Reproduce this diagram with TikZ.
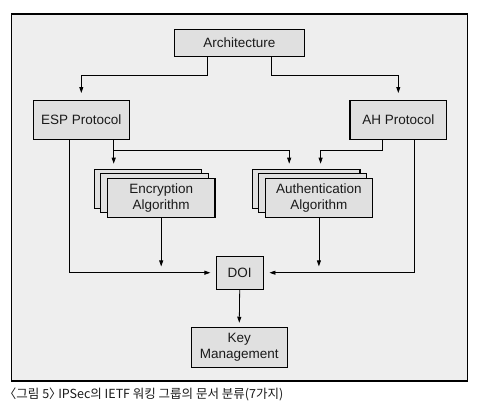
\documentclass[tikz,border=0pt]{standalone}
\usepackage{fontspec}
\setmainfont{Liberation Sans}
\newfontfamily\krfont{Noto Sans CJK KR}
\newfontfamily\krhalf[RawFeature=+halt]{Noto Sans CJK KR}
\usetikzlibrary{arrows.meta}
\definecolor{framebg}{HTML}{EEEEEE}
\definecolor{boxfill}{HTML}{E0E0E0}
\definecolor{txt}{HTML}{1A1A1A}
\begin{document}
\begin{tikzpicture}[x=1pt,y=-1pt,
  box/.style={draw=black,fill=boxfill,line width=1.1pt,inner sep=0pt,align=center,
    font=\fontsize{13.5}{16}\selectfont,text=txt},
  stk/.style={box,minimum width=107.5pt,minimum height=39pt},
  arr/.style={line width=0.8pt,-{Triangle[length=6pt,width=4pt]}}]
\useasboundingbox (0,0) rectangle (494,410);
\fill[white] (0,0) rectangle (494,410);
\draw[fill=framebg,line width=1.1pt] (11.7,14) rectangle (467.7,381);

\node[box,minimum width=130pt,minimum height=26.7pt] (arch) at (239.3,42.7) {Architecture};
\node[box,minimum width=96pt,minimum height=39.3pt] (esp) at (81.3,119.7) {ESP Protocol};
\node[box,minimum width=96.7pt,minimum height=39.3pt] (ah) at (398.3,119.7) {AH Protocol};
\node[stk] (enc3) at (148,189) {};
\node[stk] (enc2) at (154.6,193.4) {};
\node[stk] (enc1) at (161.2,197.8) {Encryption\\Algorithm};
\node[stk] (au3) at (306.2,189) {};
\node[stk] (au2) at (312.6,193.4) {};
\node[stk] (au1) at (318.9,197.8) {Authentication\\Algorithm};
\node[box,minimum width=47pt,minimum height=33.3pt] (doi) at (239.7,272.7) {DOI};
\node[box,minimum width=96.3pt,minimum height=40pt] (key) at (239.2,347.3) {Key\\Management};

\draw[arr,shorten >=6.5pt] ([xshift=-31.6pt]arch.south) -- ++(0,18.3) -| (esp.north);
\draw[arr,shorten >=6.5pt] ([xshift=32.4pt]arch.south) -- ++(0,18.3) -| (ah.north);
\draw[arr,shorten >=5.3pt] ([xshift=32.4pt]esp.south) -- ([xshift=32.4pt]esp.south |- enc3.north);
\draw[arr,shorten >=5.3pt] ([xshift=32.4pt]esp.south) ++(0,10.7) -| ([xshift=-17pt]au3.north);
\draw[arr,shorten >=5.3pt] ([xshift=-15.6pt]ah.south) -- ++(0,10.7) -| ([xshift=14.4pt]au3.north);
\draw[arr,shorten >=5.3pt] ([xshift=-12.3pt]esp.south) |- (doi.west);
\draw[arr,shorten >=5.7pt] ([xshift=16pt]ah.south) |- (doi.east);
\draw[arr,shorten >=6.3pt] (enc1.south) -- (enc1.south |- doi.west);
\draw[arr,shorten >=6.3pt] (au1.south) -- (au1.south |- doi.west);
\draw[arr,shorten >=4pt] (doi.south) -- (key.north);

\node[anchor=west,inner sep=0pt,font=\krfont\fontsize{12.5}{14}\selectfont,text=txt] (cap) at (10,394.5)
  {{\krhalf 〈}그림 5{\krhalf 〉} IPSec의 IETF 워킹 그룹의 문서 분류(7가지)};
\end{tikzpicture}
\end{document}
